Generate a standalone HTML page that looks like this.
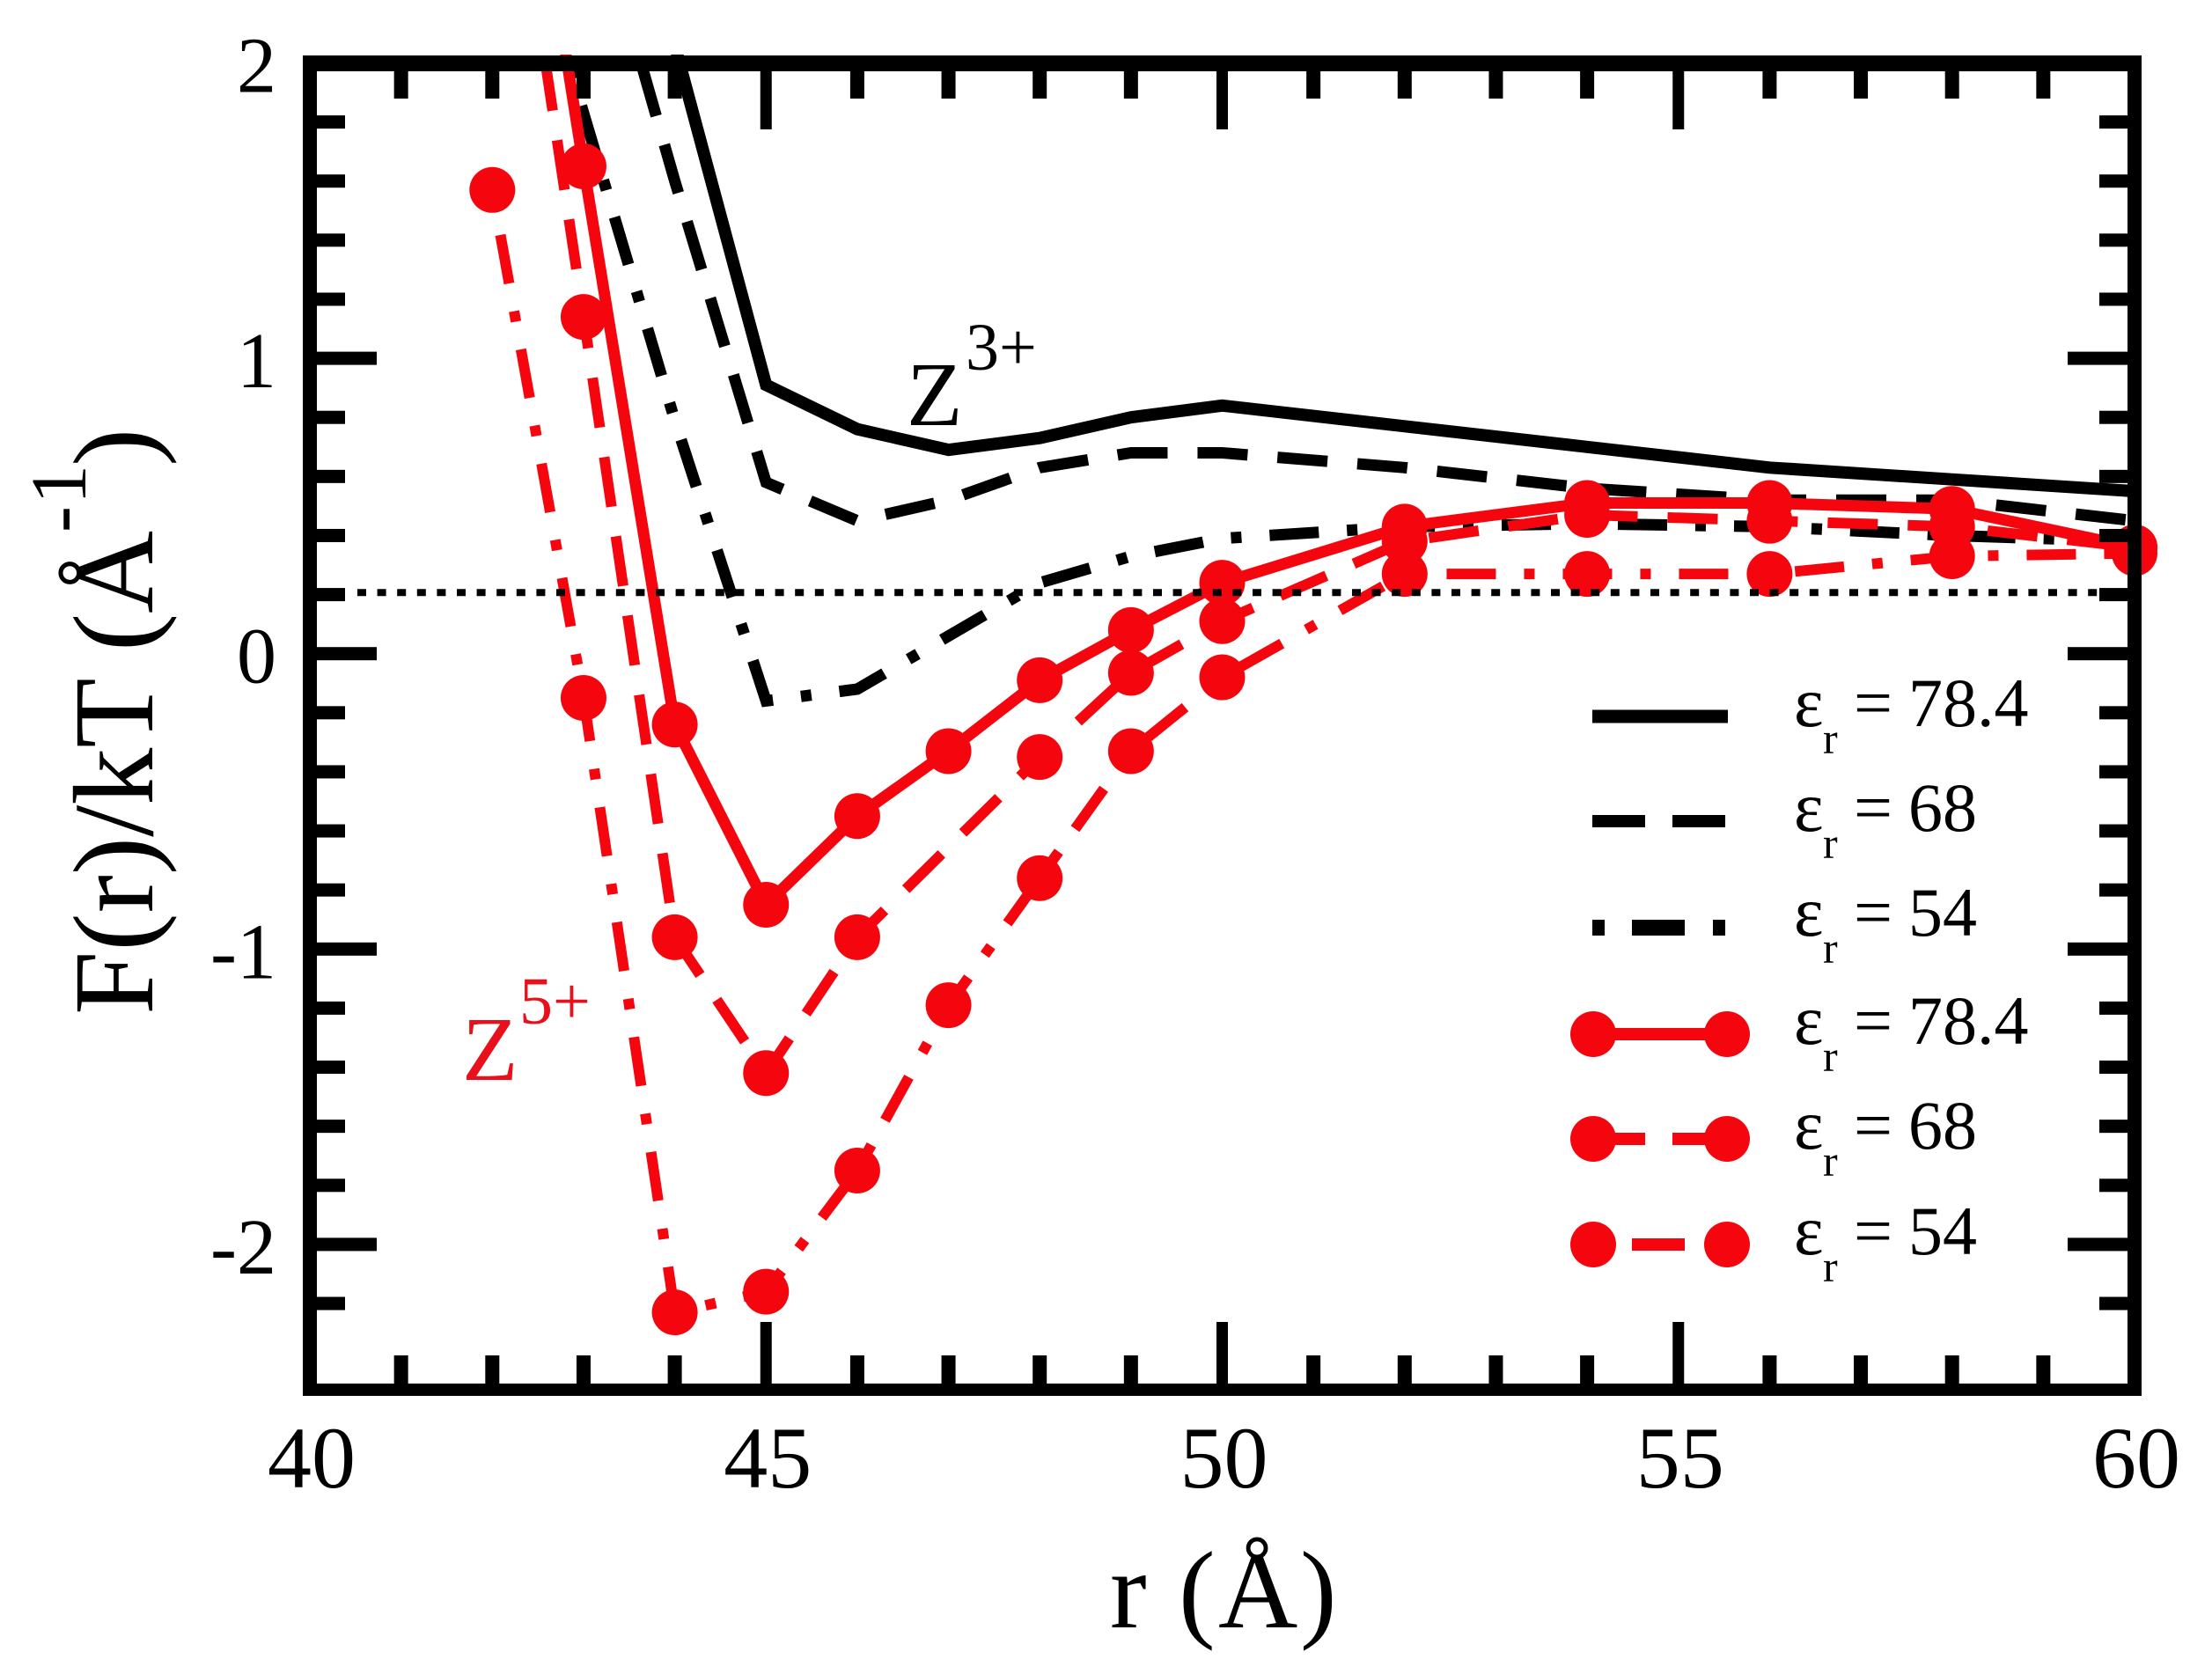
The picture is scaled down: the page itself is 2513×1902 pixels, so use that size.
<!DOCTYPE html>
<html>
<head>
<meta charset="utf-8">
<title>F(r)/kT vs r</title>
<style>
html,body{margin:0;padding:0;background:#fff;}
svg{display:block;font-family:"Liberation Serif",serif;}
</style>
</head>
<body>
<svg id="chart" xmlns="http://www.w3.org/2000/svg" width="2513" height="1902" viewBox="0 0 2513 1902">
<defs><clipPath id="plot-clip"><rect x="344" y="62" width="2089" height="1524"/></clipPath></defs>
<rect x="0" y="0" width="2513" height="1902" fill="#fff"/>
<g id="series-layer"></g>
<g id="axis-layer"></g>

<g transform="translate(173,1153) rotate(-90)" font-size="130" fill="#000">
<text x="0" y="0">F(r)/kT (Å</text>
<text x="548" y="-76" font-size="90">-</text>
<text x="580" y="-76" font-size="90">1</text>
<text x="623" y="0">)</text>
</g>
<text y="1849" font-size="125" fill="#000"><tspan x="1261">r</tspan><tspan x="1339">(</tspan><tspan x="1384">Å</tspan><tspan x="1477">)</tspan></text>

<g fill="#000">
<text x="1030" y="483" font-size="104">Z</text>
<text x="1097" y="420" font-size="76">3+</text>
</g>
<g fill="#e8101a">
<text x="525" y="1227" font-size="104">Z</text>
<text x="590" y="1163" font-size="76">5+</text>
</g>

<g>
<g>
<line x1="1809" y1="814" x2="1963" y2="814" stroke="#000" stroke-width="15"/>
<text x="2038" y="825" font-size="80">ε</text><text x="2071" y="856" font-size="50">r</text><text x="2106" y="825" font-size="78">=</text><text x="2168" y="825" font-size="78">78.4</text>
</g>
<g>
<line x1="1809" y1="933" x2="1869" y2="933" stroke="#000" stroke-width="14"/><line x1="1900" y1="933" x2="1960" y2="933" stroke="#000" stroke-width="14"/>
<text x="2038" y="944" font-size="80">ε</text><text x="2071" y="975" font-size="50">r</text><text x="2106" y="944" font-size="78">=</text><text x="2168" y="944" font-size="78">68</text>
</g>
<g>
<line x1="1809" y1="1054" x2="1823" y2="1054" stroke="#000" stroke-width="18"/><line x1="1854" y1="1054" x2="1914" y2="1054" stroke="#000" stroke-width="18"/><line x1="1946" y1="1054" x2="1960" y2="1054" stroke="#000" stroke-width="18"/>
<text x="2038" y="1063" font-size="80">ε</text><text x="2071" y="1094" font-size="50">r</text><text x="2106" y="1063" font-size="78">=</text><text x="2168" y="1063" font-size="78">54</text>
</g>
<g fill="#f5060e">
<line x1="1810" y1="1175" x2="1962" y2="1175" stroke="#f5060e" stroke-width="14"/><circle cx="1810" cy="1175" r="26"/><circle cx="1962" cy="1175" r="26"/>
<text x="2038" y="1186" font-size="80" fill="#000">ε</text><text x="2071" y="1217" font-size="50" fill="#000">r</text><text x="2106" y="1186" font-size="78" fill="#000">=</text><text x="2168" y="1186" font-size="78" fill="#000">78.4</text>
</g>
<g fill="#f5060e">
<line x1="1810" y1="1294" x2="1869" y2="1294" stroke="#f5060e" stroke-width="14"/><line x1="1900" y1="1294" x2="1962" y2="1294" stroke="#f5060e" stroke-width="14"/><circle cx="1810" cy="1294" r="26"/><circle cx="1962" cy="1294" r="26"/>
<text x="2038" y="1305" font-size="80" fill="#000">ε</text><text x="2071" y="1336" font-size="50" fill="#000">r</text><text x="2106" y="1305" font-size="78" fill="#000">=</text><text x="2168" y="1305" font-size="78" fill="#000">68</text>
</g>
<g fill="#f5060e">
<line x1="1854" y1="1414" x2="1914" y2="1414" stroke="#f5060e" stroke-width="14"/><circle cx="1810" cy="1414" r="26"/><circle cx="1962" cy="1414" r="26"/>
<text x="2038" y="1425" font-size="80" fill="#000">ε</text><text x="2071" y="1456" font-size="50" fill="#000">r</text><text x="2106" y="1425" font-size="78" fill="#000">=</text><text x="2168" y="1425" font-size="78" fill="#000">54</text>
</g>
</g>
</svg>
<script>
// Chart data
const xTickLabels = ["40", "45", "50", "55", "60"];
const yTickLabels = ["2", "1", "0", "-1", "-2"];
const referenceLevel = [0.204];

const z3EpsR78R = [43, 44, 45, 46, 47, 48, 49, 50, 52, 54, 56, 58, 60];
const z3EpsR78F = [3.23, 2.06, 0.91, 0.76, 0.69, 0.73, 0.80, 0.84, 0.77, 0.70, 0.63, 0.59, 0.55];

const z3EpsR68R = [43, 44, 45, 46, 47, 48, 49, 50, 52, 54, 56, 58, 60];
const z3EpsR68F = [2.68, 1.6, 0.58, 0.45, 0.52, 0.63, 0.68, 0.68, 0.63, 0.56, 0.52, 0.52, 0.45];

const z3EpsR54R = [42, 43, 44, 45, 46, 47, 48, 49, 50, 52, 54, 56, 58, 60];
const z3EpsR54F = [2.9, 1.83, 0.79, -0.16, -0.12, 0.06, 0.24, 0.33, 0.39, 0.43, 0.44, 0.43, 0.40, 0.38];

const z5EpsR78R = [42, 43, 44, 45, 46, 47, 48, 49, 50, 52, 54, 56, 58, 60];
const z5EpsR78F = [3.6, 1.65, -0.24, -0.85, -0.55, -0.33, -0.09, 0.08, 0.24, 0.43, 0.51, 0.51, 0.49, 0.36];

const z5EpsR68R = [42, 43, 44, 45, 46, 48, 49, 50, 52, 54, 56, 58, 60];
const z5EpsR68F = [3.2, 1.14, -0.96, -1.42, -0.96, -0.35, -0.065, 0.11, 0.38, 0.47, 0.45, 0.43, 0.36];

const z5EpsR54R = [42, 43, 44, 45, 46, 47, 48, 49, 50, 52, 54, 56, 58, 60];
const z5EpsR54F = [1.57, -0.15, -2.23, -2.16, -1.75, -1.19, -0.76, -0.33, -0.08, 0.27, 0.27, 0.27, 0.33, 0.34];

const NS = "http://www.w3.org/2000/svg";
function xAxis(r) { return 352 + (r - 40) * 103.65; }
function yAxis(v) { return 71.5 + (2 - v) * 335.6; }
function make(tag, attrs, parent) {
  const el = document.createElementNS(NS, tag);
  for (const k in attrs) el.setAttribute(k, attrs[k]);
  parent.appendChild(el);
  return el;
}
const seriesLayer = document.getElementById("series-layer");
const axisLayer = document.getElementById("axis-layer");

function drawSeries(name, rs, fs, color, width, dash, offset, showMarkers) {
  const group = make("g", {}, seriesLayer);
  
  
  const pts = rs.map(function (r, i) { return xAxis(r).toFixed(1) + "," + yAxis(fs[i]).toFixed(1); }).join(" ");
  const line = make("polyline", { points: pts, fill: "none", stroke: color, "stroke-width": width, "stroke-dasharray": dash, "stroke-dashoffset": offset, "stroke-linejoin": "miter", "clip-path": "url(#plot-clip)" }, group);
  
  
  if (showMarkers) {
    rs.forEach(function (r, i) {
      const dot = make("circle", { cx: xAxis(r), cy: yAxis(fs[i]), r: 26, fill: color }, group);
      
      
    });
  }
}

const RED = "#f5060e";
drawSeries("z3-eps-78-series", z3EpsR78R, z3EpsR78F, "#000", 14, "none", 0, false);
drawSeries("z3-eps-68-series", z3EpsR68R, z3EpsR68F, "#000", 13, "57 34", 30, false);
drawSeries("z3-eps-54-series", z3EpsR54R, z3EpsR54F, "#000", 13, "56 32 12 32", 31, false);
drawSeries("z5-eps-78-series", z5EpsR78R, z5EpsR78F, RED, 13, "none", 0, true);
drawSeries("z5-eps-68-series", z5EpsR68R, z5EpsR68F, RED, 12, "57 34", 50, true);
drawSeries("z5-eps-54-series", z5EpsR54R, z5EpsR54F, RED, 12, "56 32 12 32", 80, true);

const refLine = make("line", { x1: 406, x2: 2417, y1: yAxis(referenceLevel[0]) - 1, y2: yAxis(referenceLevel[0]) - 1, stroke: "#000", "stroke-width": 8, "stroke-dasharray": "10 12.6" }, axisLayer);



function rect(x, y, w, h, name) {
  const el = make("rect", { x: x, y: y, width: w, height: h, fill: "#000" }, axisLayer);
  
  
}

// x ticks, top and bottom
for (let r = 41; r < 60; r++) {
  const major = r % 5 === 0;
  const w = major ? 13 : 16;
  const x = xAxis(r) - w / 2;
  rect(x, 81, w, major ? 66 : 31, 'x-tick-top');
  rect(x, major ? 1502 : 1540, w, major ? 70 : 32, 'x-tick-bottom');
}
// y ticks, left and right
for (let i = 1; i < 22; i++) {
  const v = 2 - i * 0.2;
  const major = i % 5 === 0;
  const y = yAxis(v) - 7.5;
  rect(360, y, major ? 68 : 32, 15, 'y-tick-left');
  rect(major ? 2349 : 2385, y, major ? 68 : 32, 15, 'y-tick-right');
}
// frame
rect(344, 63, 2089, 18, 'plot-frame-top');
rect(344, 1572, 2089, 14, 'plot-frame-bottom');
rect(344, 63, 16, 1523, 'plot-frame-left');
rect(2417, 63, 16, 1523, 'plot-frame-right');

xTickLabels.forEach(function (label) {
  const t = make("text", { x: xAxis(Number(label)) + 2, y: 1690, "font-size": 100, "text-anchor": "middle", fill: "#000" }, axisLayer);
  t.textContent = label;
  
  
});
yTickLabels.forEach(function (label) {
  const t = make("text", { x: 314, y: yAxis(Number(label)) + 33, "font-size": 90, "text-anchor": "end", fill: "#000" }, axisLayer);
  t.textContent = label;
  
  
});
</script>
</body>
</html>
